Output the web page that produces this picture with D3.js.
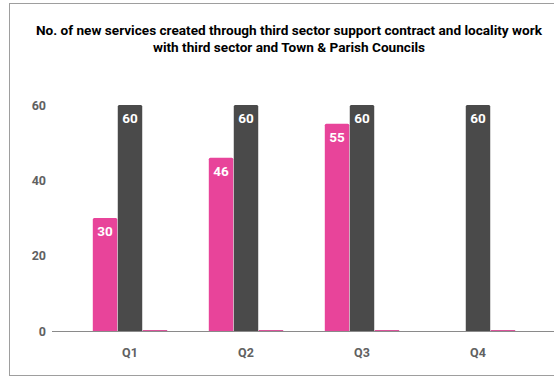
<!DOCTYPE html>
<html>
<head>
<meta charset="utf-8">
<script src="https://cdn.jsdelivr.net/npm/d3@7"></script>
<style>
  html, body { margin: 0; padding: 0; background: #fff; }
  svg { display: block; font-family: Roboto, "Noto Sans", sans-serif; }
</style>
</head>
<body>
<svg id="chart" width="554" height="377"></svg>
<script>
// Quarterly counts of new services
const quarters = ["Q1", "Q2", "Q3", "Q4"];
const actual = [30, 46, 55, null];
const target = [60, 60, 60, 60];
const extra = [0, 0, 0, 0];
const yTicks = [0, 20, 40, 60];
const titleLines = [
  "No. of new services created through third sector support contract and locality work",
  "with third sector and Town & Parish Councils"
];

const series = [
  { key: "actual", values: actual, color: "#E8449A", label: true },
  { key: "target", values: target, color: "#4A4A4A", label: true },
  { key: "extra", values: extra, color: "#D9539A", label: false }
];

const svg = d3.select("#chart");
const W = 554, H = 377;

// outer frame
svg.append("rect")
  .attr("x", 9.5).attr("y", 3.5)
  .attr("width", W).attr("height", 372)
  .attr("fill", "#fff").attr("stroke", "#9e9e9e").attr("stroke-width", 1);

// title
svg.append("g").selectAll("text").data(titleLines).join("text")
  .attr("x", 289).attr("y", (d, i) => 35 + i * 17)
  .attr("text-anchor", "middle")
  .attr("font-size", 13.6).attr("font-weight", "bold").attr("fill", "#000")
  .text(d => d);

const x0 = d3.scaleBand().domain(quarters).range([72, 536])
  .paddingInner(0.35).paddingOuter(0.175);
const x1 = d3.scaleBand().domain(series.map(s => s.key))
  .range([0, x0.bandwidth()]).padding(0.02);
const y = d3.scaleLinear().domain([0, 60]).range([331, 105]);

// y tick labels
svg.append("g").selectAll("text").data(yTicks).join("text")
  .attr("x", 46).attr("y", d => y(d) + 4.5)
  .attr("text-anchor", "end")
  .attr("font-size", 12.5).attr("font-weight", "bold").attr("fill", "#616161")
  .text(d => d);

// baseline
svg.append("line")
  .attr("x1", 52).attr("x2", W).attr("y1", y(0) + 0.5).attr("y2", y(0) + 0.5)
  .attr("stroke", "#8a8a8a").attr("stroke-width", 1.2);

// bars
const groups = svg.append("g").selectAll("g").data(quarters).join("g")
  .attr("transform", q => `translate(${x0(q)},0)`);

series.forEach(s => {
  groups.each(function(q, i) {
    const v = s.values[i];
    if (v === null || v === undefined) return;
    const g = d3.select(this);
    const h = Math.max(1, y(0) - y(v));
    g.append("path")
      .attr("d", () => {
        const bx = x1(s.key), bw = x1.bandwidth(), by = y(0) - h, r = v > 0 ? 1.5 : 0;
        return `M${bx},${y(0)} V${by + r} Q${bx},${by} ${bx + r},${by} H${bx + bw - r} Q${bx + bw},${by} ${bx + bw},${by + r} V${y(0)} Z`;
      })
      .attr("fill", s.color);
    if (s.label && v > 0) {
      g.append("text")
        .attr("x", x1(s.key) + x1.bandwidth() / 2)
        .attr("y", y(v) + 18)
        .attr("text-anchor", "middle")
        .attr("font-size", 13.5).attr("font-weight", "bold").attr("fill", "#fff")
        .text(v);
    }
  });
});

// x labels
svg.append("g").selectAll("text").data(quarters).join("text")
  .attr("x", q => x0(q) + x0.bandwidth() / 2)
  .attr("y", 357)
  .attr("text-anchor", "middle")
  .attr("font-size", 12.5).attr("font-weight", "bold").attr("fill", "#616161")
  .text(q => q);
</script>
</body>
</html>
